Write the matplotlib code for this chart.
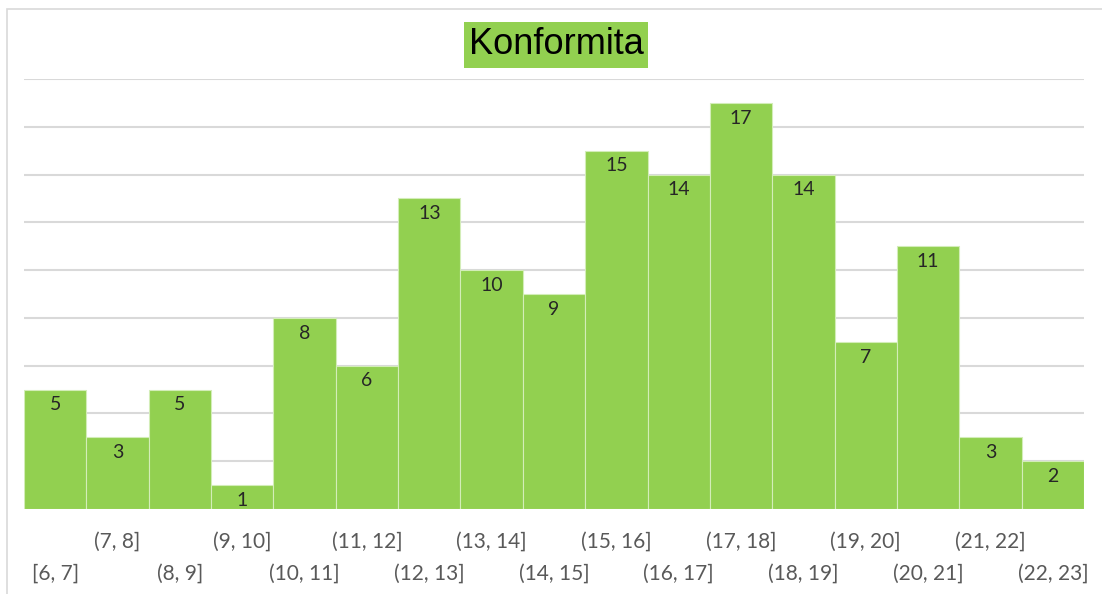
import matplotlib.pyplot as plt
from matplotlib.patches import Rectangle

# Data
categories = ["[6, 7]", "(7, 8]", "(8, 9]", "(9, 10]", "(10, 11]", "(11, 12]",
              "(12, 13]", "(13, 14]", "(14, 15]", "(15, 16]", "(16, 17]",
              "(17, 18]", "(18, 19]", "(19, 20]", "(20, 21]", "(21, 22]",
              "(22, 23]"]
counts = [5, 3, 5, 1, 8, 6, 13, 10, 9, 15, 14, 17, 14, 7, 11, 3, 2]

green = "#92D050"
grid_col = "#D9D9D9"
tick_col = "#595959"

fig = plt.figure(figsize=(11.02, 5.94), dpi=100)
ax = fig.add_axes([24 / 1102, 85 / 594, 1060 / 1102, 430 / 594])

x = range(len(counts))
bars = ax.bar(x, counts, width=1.0, color=green, edgecolor="#D3EDB8",
              linewidth=0.8, zorder=3)

ax.set_xlim(-0.5, len(counts) - 0.5)
ax.set_ylim(0, 18)
ax.set_yticks(range(0, 19, 2))
ax.yaxis.grid(True, color=grid_col, linewidth=1.5, zorder=0)
ax.tick_params(axis="y", left=False, labelleft=False)
ax.tick_params(axis="x", bottom=False, labelbottom=False)
for s in ax.spines.values():
    s.set_visible(False)

# value labels inside the top of each bar
for i, v in enumerate(counts):
    ax.annotate(str(v), (i, v), xytext=(0, -11), textcoords="offset points",
                ha="center", va="center", fontsize=14, family="Lato",
                color="#262626", zorder=4)

# staggered category labels
for i, lab in enumerate(categories):
    y_px = -33 if i % 2 == 1 else -65
    ax.annotate(lab, (i, 0), xytext=(0, y_px * 0.72), textcoords="offset points",
                ha="center", va="center", fontsize=15, family="Lato",
                color=tick_col, annotation_clip=False)

# title with green box
fig.text(556 / 1102, 1 - 45 / 594, "Konformita", ha="center", va="center",
         fontsize=26, family="Liberation Sans", color="black",
         bbox=dict(boxstyle="square,pad=0.14", facecolor=green, edgecolor="none"))

# chart frame
fig.patches.append(Rectangle((7 / 1102, -0.05), 1.1, 1 - 9 / 594 + 0.05,
                             transform=fig.transFigure, fill=False,
                             edgecolor=grid_col, linewidth=1.2))

fig.savefig("out.png", dpi=100)
